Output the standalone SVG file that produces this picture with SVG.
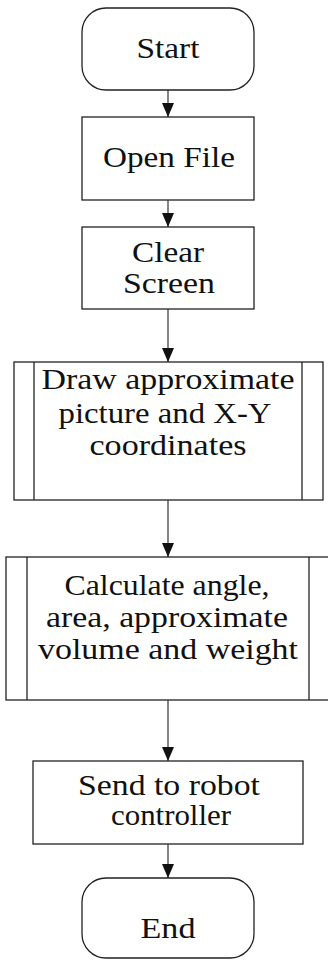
<svg xmlns="http://www.w3.org/2000/svg" width="328" height="960" viewBox="0 0 328 960">
<style>
.box{fill:#fff;stroke:#222;stroke-width:1.3}
.ln{stroke:#222;stroke-width:1.3;fill:none}
.con{stroke:#444;stroke-width:1.3;fill:none}
.t{font-family:'Liberation Serif','Times New Roman',Times,serif;font-size:30px;fill:#111;text-anchor:middle}
</style>
<defs>
<marker id="ah" markerUnits="userSpaceOnUse" markerWidth="16" markerHeight="12" refX="14" refY="6" orient="auto">
<path d="M0,0 L14,6 L0,12 Z" fill="#111"/>
</marker>
</defs>
<rect width="328" height="960" fill="#fff"/>
<g id="connectors">
<line class="con" x1="168" y1="90" x2="168" y2="117" marker-end="url(#ah)"/>
<line class="con" x1="168" y1="200" x2="168" y2="227" marker-end="url(#ah)"/>
<line class="con" x1="168" y1="309" x2="168" y2="362" marker-end="url(#ah)"/>
<line class="con" x1="168" y1="500" x2="168" y2="557" marker-end="url(#ah)"/>
<line class="con" x1="168" y1="700" x2="168" y2="761" marker-end="url(#ah)"/>
<line class="con" x1="168" y1="844" x2="168" y2="878" marker-end="url(#ah)"/>
</g>
<g id="start">
<rect class="box" x="82" y="8" width="172" height="82" rx="24"/>
<text class="t" font-family="Liberation Serif" x="168" y="58" textLength="63" lengthAdjust="spacingAndGlyphs">Start</text>
</g>
<g id="open-file">
<rect class="box" x="82" y="117" width="172" height="83"/>
<text class="t" font-family="Liberation Serif" x="169" y="167" textLength="132" lengthAdjust="spacingAndGlyphs">Open File</text>
</g>
<g id="clear-screen">
<rect class="box" x="82" y="227" width="172" height="82"/>
<text class="t" font-family="Liberation Serif" x="168" y="262" textLength="72" lengthAdjust="spacingAndGlyphs">Clear</text>
<text class="t" font-family="Liberation Serif" x="169" y="293" textLength="92" lengthAdjust="spacingAndGlyphs">Screen</text>
</g>
<g id="draw">
<rect class="box" x="14" y="362" width="309" height="138"/>
<line class="ln" x1="34" y1="362" x2="34" y2="500"/>
<line class="ln" x1="302" y1="362" x2="302" y2="500"/>
<text class="t" font-family="Liberation Serif" x="168" y="389" textLength="253" lengthAdjust="spacingAndGlyphs">Draw approximate</text>
<text class="t" font-family="Liberation Serif" x="165" y="423" textLength="213" lengthAdjust="spacingAndGlyphs">picture and X-Y</text>
<text class="t" font-family="Liberation Serif" x="168" y="455" textLength="157" lengthAdjust="spacingAndGlyphs">coordinates</text>
</g>
<g id="calculate">
<rect class="box" x="6" y="557" width="326" height="143"/>
<line class="ln" x1="27" y1="557" x2="27" y2="700"/>
<line class="ln" x1="309" y1="557" x2="309" y2="700"/>
<text class="t" font-family="Liberation Serif" x="167" y="595" textLength="205" lengthAdjust="spacingAndGlyphs">Calculate angle,</text>
<text class="t" font-family="Liberation Serif" x="167" y="627" textLength="242" lengthAdjust="spacingAndGlyphs">area, approximate</text>
<text class="t" font-family="Liberation Serif" x="168" y="659" textLength="260" lengthAdjust="spacingAndGlyphs">volume and weight</text>
</g>
<g id="send">
<rect class="box" x="33" y="761" width="270" height="83"/>
<text class="t" font-family="Liberation Serif" x="169" y="795" textLength="182" lengthAdjust="spacingAndGlyphs">Send to robot</text>
<text class="t" font-family="Liberation Serif" x="171" y="825" textLength="120" lengthAdjust="spacingAndGlyphs">controller</text>
</g>
<g id="end">
<rect class="box" x="82" y="878" width="172" height="80" rx="24"/>
<text class="t" font-family="Liberation Serif" x="168" y="938" textLength="55" lengthAdjust="spacingAndGlyphs">End</text>
</g>
</svg>
